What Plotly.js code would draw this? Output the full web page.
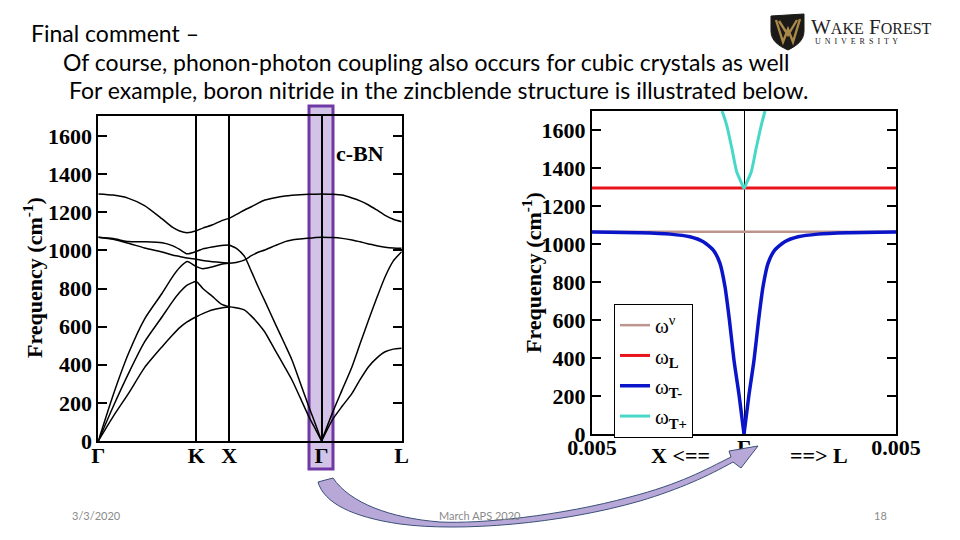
<!DOCTYPE html>
<html><head><meta charset="utf-8">
<script src="https://cdn.plot.ly/plotly-3.0.1.min.js"></script>
<style>html,body{margin:0;padding:0;background:#fff}#chart{width:960px;height:540px}</style>
</head><body><div id="chart"></div>
<script>
// ---------- Left panel: c-BN phonon dispersion ----------
const symLabels = ['Γ', 'K', 'X', 'Γ', 'L'];
const symK = [0, 1.0607, 1.4142, 2.4142, 3.2802];
const freqTicks = [0, 200, 400, 600, 800, 1000, 1200, 1400, 1600];

// segment Γ → K → X
const kGKX = [0, 0.16, 0.327, 0.50, 0.69, 0.80, 0.88, 0.96, 1.0607, 1.13, 1.23, 1.33, 1.4142];
const gkxLO  = [1296, 1290, 1273, 1235, 1165, 1122, 1102, 1093, 1103, 1117, 1133, 1155, 1168];
const gkxTOa = [1069, 1062, 1046, 1045, 1040, 1025, 1005, 982, 995, 1008, 1018, 1026, 1028];
const gkxTOb = [1069, 1058, 1037, 1013, 992, 976, 968, 960, 953, 947, 941, 936, 932];
const gkxLA  = [0, 240, 460, 640, 775, 860, 910, 942, 915, 904, 913, 927, 932];
const gkxTA2 = [0, 180, 355, 520, 652, 730, 780, 818, 836, 800, 760, 718, 704];
const gkxTA1 = [0, 128, 250, 385, 495, 555, 595, 625, 652, 668, 687, 698, 704];

// segment X → Γ
const kXG = [1.4142, 1.50, 1.582, 1.655, 1.728, 1.80, 1.911, 2.019, 2.094, 2.18, 2.276, 2.35, 2.4142];
const xgLO = [1168, 1190, 1212, 1229, 1248, 1264, 1276, 1285, 1289, 1292, 1294, 1295, 1296];
const xgLA = [1028, 1008, 967, 890, 809, 735, 617, 505, 425, 310, 180, 85, 0];
const xgTO = [932, 938, 950, 972, 990, 1002, 1025, 1046, 1055, 1060, 1064, 1067, 1069];
const xgTA = [704, 698, 687, 655, 617, 572, 477, 385, 320, 230, 128, 60, 0];

// segment Γ → L
const kGL = [2.4142, 2.529, 2.636, 2.743, 2.83, 2.922, 3.01, 3.101, 3.19, 3.2802];
const glLO = [1296, 1294, 1290, 1275, 1260, 1238, 1212, 1184, 1163, 1150];
const glTO = [1069, 1067, 1063, 1055, 1045, 1034, 1024, 1017, 1013, 1011];
const glLA = [0, 145, 268, 390, 510, 635, 750, 862, 945, 993];
const glTA = [0, 110, 182, 250, 322, 390, 435, 468, 482, 486];

// ---------- Right panel: polariton near Γ ----------
const qTicks = [-0.005, 0, 0.005];
const qTickText = ['0.005', 'Γ', '0.005'];
const qFlat = [-0.005, 0.005];
const wNu = [1065, 1065];
const wL = [1295, 1295];
const qTminusLeft = [-0.005, -0.00342, -0.00243, -0.00178, -0.00134, -0.00101, -0.00079, -0.000625, -0.00048, -0.00033, -0.000155, 0];
const wTminusLeft = [1063, 1059, 1052, 1038, 1012, 968, 898, 775, 600, 389, 196, 0];
const qTminusRight = [0, 0.000155, 0.00033, 0.00048, 0.000625, 0.00079, 0.00101, 0.00134, 0.00178, 0.00243, 0.00342, 0.005];
const wTminusRight = [0, 196, 389, 600, 775, 898, 968, 1012, 1038, 1052, 1059, 1063];
const qTplus = [-0.00072, -0.00057, -0.0004, -0.00024, -0.000077, 0, 0.000077, 0.00024, 0.0004, 0.00057, 0.00069];
const wTplus = [1700, 1626, 1504, 1380, 1319, 1293, 1319, 1380, 1504, 1626, 1700];

const legendNames = ['ω<sup>ν</sup>', 'ω<sub><b>L</b></sub>', 'ω<sub><b>T-</b></sub>', 'ω<sub><b>T+</b></sub>'];
const seriesColors = ['#bc958f', '#e8141c', '#0a14c8', '#48d8c8'];

// ---------- build traces ----------
const traces = [];
function band(x, y) {
  traces.push({x: x, y: y, xaxis: 'x', yaxis: 'y', mode: 'lines', showlegend: false,
    line: {color: '#000', width: 1.5, shape: 'spline', smoothing: 0.6}, hoverinfo: 'skip'});
}
[gkxLO, gkxTOa, gkxTOb, gkxLA, gkxTA2, gkxTA1].forEach(b => band(kGKX, b));
[xgLO, xgLA, xgTO, xgTA].forEach(b => band(kXG, b));
[glLO, glTO, glLA, glTA].forEach(b => band(kGL, b));

traces.push({x: qFlat, y: wNu, xaxis: 'x2', yaxis: 'y2', mode: 'lines', name: legendNames[0],
  line: {color: seriesColors[0], width: 2.5}});
traces.push({x: qFlat, y: wL, xaxis: 'x2', yaxis: 'y2', mode: 'lines', name: legendNames[1],
  line: {color: seriesColors[1], width: 3}});
traces.push({x: qTminusLeft, y: wTminusLeft, xaxis: 'x2', yaxis: 'y2', mode: 'lines', name: legendNames[2],
  legendgroup: 'tm', line: {color: seriesColors[2], width: 3.5, shape: 'spline', smoothing: 0.6}});
traces.push({x: qTminusRight, y: wTminusRight, xaxis: 'x2', yaxis: 'y2', mode: 'lines', name: legendNames[2],
  legendgroup: 'tm', showlegend: false, line: {color: seriesColors[2], width: 3.5, shape: 'spline', smoothing: 0.6}});
traces.push({x: qTplus, y: wTplus, xaxis: 'x2', yaxis: 'y2', mode: 'lines', name: legendNames[3],
  line: {color: seriesColors[3], width: 3, shape: 'spline', smoothing: 0.6}});

// ---------- layout ----------
const W = 960, H = 540;
const px = (x) => x / W, py = (y) => 1 - y / H;
function pathPx(s) {
  return s.replace(/(-?\d+\.?\d*),(-?\d+\.?\d*)/g, (m, a, b) => px(+a).toFixed(5) + ',' + py(+b).toFixed(5));
}
const serif = 'Liberation Serif, Times New Roman, serif';
const sans = 'Lato, Carlito, sans-serif';
const tickFont = {family: serif, size: 22, color: '#000', weight: 'bold'};

const axisCommon = {showline: true, linecolor: '#000', linewidth: 2, mirror: 'ticks', zeroline: false};

const layout = {
  width: W, height: H, margin: {l: 0, r: 0, t: 0, b: 0},
  paper_bgcolor: '#fff', plot_bgcolor: 'rgba(0,0,0,0)',
  showlegend: true,
  legend: {x: px(614), y: py(304), xanchor: 'left', yanchor: 'top', bgcolor: '#fff',
    bordercolor: '#000', borderwidth: 1, itemwidth: 30, tracegroupgap: 0,
    font: {family: serif, size: 21, color: '#000'}},
  xaxis: Object.assign({}, axisCommon, {domain: [px(98.3), px(401.7)], range: [0, 3.2802],
    tickvals: symK, ticktext: symLabels, ticks: '', showgrid: true, gridcolor: '#000', gridwidth: 2,
    tickfont: tickFont, ticklabelstandoff: -6, anchor: 'y'}),
  yaxis: Object.assign({}, axisCommon, {domain: [1 - 441 / H, 1 - 116 / H], range: [0, 1705],
    tickvals: freqTicks, ticks: 'inside', ticklen: 9, tickwidth: 2, tickcolor: '#000', showgrid: false,
    tickfont: tickFont, anchor: 'x'}),
  xaxis2: Object.assign({}, axisCommon, {domain: [px(592), px(896)], range: [-0.005, 0.005],
    tickvals: qTicks, ticktext: qTickText, ticks: '', showgrid: false,
    zeroline: true, zerolinecolor: '#000', zerolinewidth: 1, tickfont: tickFont, ticklabelstandoff: -7, anchor: 'y2'}),
  yaxis2: Object.assign({}, axisCommon, {domain: [1 - 434 / H, 1 - 111 / H], range: [0, 1700],
    tickvals: freqTicks, ticks: 'inside', ticklen: 9, tickwidth: 2, tickcolor: '#000', showgrid: false,
    tickfont: tickFont, anchor: 'x2'}),
  shapes: [
    // highlight box around Γ on the left panel
    {type: 'rect', xref: 'paper', yref: 'paper', x0: px(309), x1: px(333), y0: py(469), y1: py(106),
      fillcolor: 'rgba(192,170,220,0.7)', line: {color: '#7038a4', width: 3}, layer: 'below'},
    // curved arrow
    {type: 'path', xref: 'paper', yref: 'paper', layer: 'above',
      path: pathPx('M318,482 C324,503 352,517 400,524 C460,532 560,524 640,501 C680,489 708,476 733,462 L741,468 L758,446 L729,451 L731,457 C705,470 680,484 630,497 C560,516 480,524 440,522 C390,518 350,503 333,478 Z'),
      fillcolor: '#b8a8d8', line: {color: '#3b4f78', width: 1}},
    // logo shield
    {type: 'path', xref: 'paper', yref: 'paper', layer: 'above',
      path: pathPx('M771,16 L804,14 L804,31 C804,41 796,46 788,50 C779,46 771,41 771,31 Z'),
      fillcolor: '#1c1a16', line: {color: '#1c1a16', width: 1}},
    {type: 'path', xref: 'paper', yref: 'paper', layer: 'above',
      path: pathPx('M776,20 L783,42 L788,29 L793,42 L800,19 M779,21 L788,35 L797,20'),
      line: {color: '#a8894a', width: 2.4}}
  ],
  annotations: [
    {text: 'Final comment –', x: px(29), y: py(33), xref: 'paper', yref: 'paper', xanchor: 'left', yanchor: 'middle', showarrow: false, font: {family: sans, size: 23, color: '#000'}},
    {text: 'Of course, phonon-photon coupling also occurs for cubic crystals as well', x: px(61), y: py(62), xref: 'paper', yref: 'paper', xanchor: 'left', yanchor: 'middle', showarrow: false, font: {family: sans, size: 23, color: '#000'}},
    {text: 'For example, boron nitride in the zincblende structure is illustrated below.', x: px(67), y: py(90), xref: 'paper', yref: 'paper', xanchor: 'left', yanchor: 'middle', showarrow: false, font: {family: sans, size: 23, color: '#000'}},
    {text: 'W<span style="font-size:16px">AKE</span> F<span style="font-size:16px">OREST</span>', x: px(809), y: py(27), xref: 'paper', yref: 'paper', xanchor: 'left', yanchor: 'middle', showarrow: false, font: {family: serif, size: 21, color: '#222'}},
    {text: 'U  N  I  V  E  R  S  I  T  Y', x: px(813), y: py(42), xref: 'paper', yref: 'paper', xanchor: 'left', yanchor: 'middle', showarrow: false, font: {family: serif, size: 8, color: '#222'}},
    {text: 'c-BN', x: px(360), y: py(153), xref: 'paper', yref: 'paper', xanchor: 'center', yanchor: 'middle', showarrow: false, font: {family: serif, size: 22, color: '#000', weight: 'bold'}},
    {text: 'Frequency (cm<sup>-1</sup>)', x: px(33), y: py(278), xref: 'paper', yref: 'paper', textangle: -90, xanchor: 'center', yanchor: 'middle', showarrow: false, font: {family: serif, size: 22, color: '#000', weight: 'bold'}},
    {text: 'Frequency (cm<sup>-1</sup>)', x: px(532), y: py(273), xref: 'paper', yref: 'paper', textangle: -90, xanchor: 'center', yanchor: 'middle', showarrow: false, font: {family: serif, size: 22, color: '#000', weight: 'bold'}},
    {text: 'X <==', x: px(680), y: py(455), xref: 'paper', yref: 'paper', xanchor: 'center', yanchor: 'middle', showarrow: false, font: {family: serif, size: 22, color: '#000', weight: 'bold'}},
    {text: '==> L', x: px(819), y: py(455), xref: 'paper', yref: 'paper', xanchor: 'center', yanchor: 'middle', showarrow: false, font: {family: serif, size: 22, color: '#000', weight: 'bold'}},
    {text: '3/3/2020', x: px(96), y: py(515), xref: 'paper', yref: 'paper', xanchor: 'center', yanchor: 'middle', showarrow: false, font: {family: sans, size: 11, color: '#8a8a8a'}},
    {text: 'March APS 2020', x: px(480), y: py(515), xref: 'paper', yref: 'paper', xanchor: 'center', yanchor: 'middle', showarrow: false, font: {family: sans, size: 11, color: '#8a8a8a'}},
    {text: '18', x: px(880), y: py(515), xref: 'paper', yref: 'paper', xanchor: 'center', yanchor: 'middle', showarrow: false, font: {family: sans, size: 11, color: '#8a8a8a'}}
  ]
};

Plotly.newPlot('chart', traces, layout, {displayModeBar: false, staticPlot: true});
</script>
</body></html>
